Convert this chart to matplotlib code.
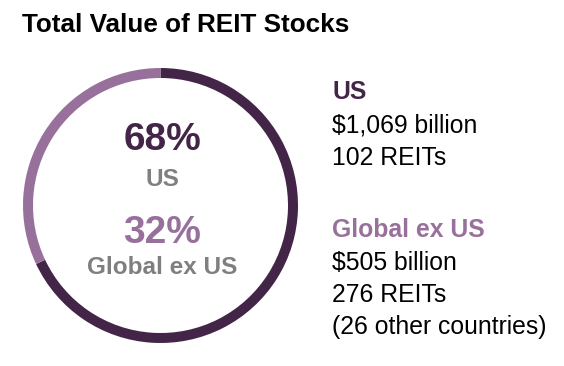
import matplotlib.pyplot as plt

plt.rcParams['font.family'] = ['Liberation Sans', 'DejaVu Sans']

regions = ['US', 'Global ex US']
shares = [68, 32]
value_bn = [1069, 505]
reit_count = [102, 276]
other_countries = 26
colors = ['#432548', '#98709c']
grey = '#7f7f7f'

W, H = 564, 366
fig = plt.figure(figsize=(W / 100, H / 100), dpi=100)


def fx(px):
    return px / W


def fy(py):
    return 1 - py / H


# donut ring
cx, cy, r = 160.5, 205.5, 137.5
ax = fig.add_axes([fx(cx - r), fy(cy + r), 2 * r / W, 2 * r / H])
ax.pie(shares, colors=colors, startangle=90, counterclock=False,
       wedgeprops=dict(width=10 / r, linewidth=0))
ax.set_xlim(-1, 1)
ax.set_ylim(-1, 1)
ax.set_aspect('equal')
ax.axis('off')

fig.text(fx(22), fy(25), 'Total Value of REIT Stocks', fontsize=18.8,
         fontweight='bold', color='black', va='center', ha='left')

# center labels
fig.text(fx(162), fy(140), f'{shares[0]}%', fontsize=28, fontweight='bold',
         color=colors[0], ha='center', va='center')
fig.text(fx(162), fy(179), regions[0], fontsize=17.5, fontweight='bold',
         color=grey, ha='center', va='center')
fig.text(fx(162), fy(233), f'{shares[1]}%', fontsize=28, fontweight='bold',
         color=colors[1], ha='center', va='center')
fig.text(fx(162), fy(267), regions[1], fontsize=17.5, fontweight='bold',
         color=grey, ha='center', va='center')

# right side details
x0 = 332
fs = 17.8
fig.text(fx(x0), fy(92), regions[0], fontsize=fs, fontweight='bold',
         color=colors[0], va='center')
fig.text(fx(x0), fy(125), f'${value_bn[0]:,} billion', fontsize=fs, va='center')
fig.text(fx(x0), fy(158), f'{reit_count[0]} REITs', fontsize=fs, va='center')
fig.text(fx(x0), fy(230), regions[1], fontsize=fs, fontweight='bold',
         color=colors[1], va='center')
fig.text(fx(x0), fy(263), f'${value_bn[1]:,} billion', fontsize=fs, va='center')
fig.text(fx(x0), fy(295), f'{reit_count[1]} REITs', fontsize=fs, va='center')
fig.text(fx(x0), fy(327), f'({other_countries} other countries)', fontsize=fs,
         va='center')

fig.savefig('out.png', dpi=100)
